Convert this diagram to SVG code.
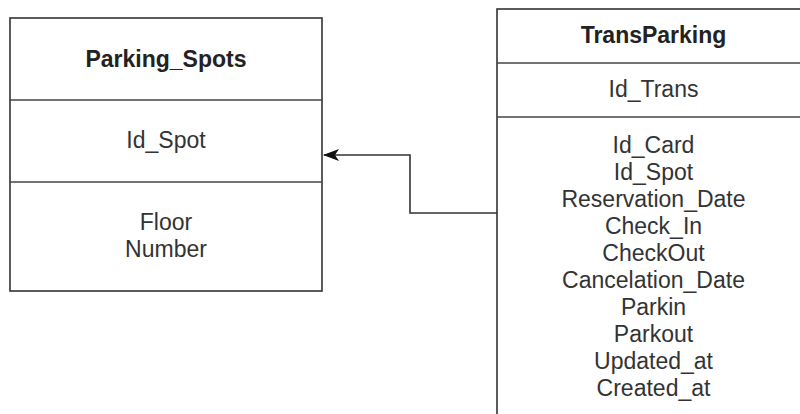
<svg xmlns="http://www.w3.org/2000/svg" width="800" height="414" viewBox="0 0 800 414">
  <style>
    .box { fill: #ffffff; stroke: #333333; stroke-width: 1.6; }
    .div { stroke: #444444; stroke-width: 1.6; fill: none; }
    .title { font-family: "Liberation Sans", Arial, sans-serif; font-size: 23px; font-weight: bold; fill: #222222; text-anchor: middle; }
    .attr { font-family: "Liberation Sans", Arial, sans-serif; font-size: 23px; fill: #333333; text-anchor: middle; }
    .edge { fill: none; stroke: #333333; stroke-width: 1.6; }
  </style>
  <defs>
    <marker id="arrow" viewBox="0 0 16 12" refX="15" refY="6" markerWidth="16" markerHeight="12" markerUnits="userSpaceOnUse" orient="auto">
      <path d="M0 0 L16 6 L0 12 L4 6 Z" fill="#111111"/>
    </marker>
  </defs>
  <rect width="800" height="414" fill="#ffffff"/>
  <g id="parking_spots">
    <rect class="box" x="10" y="18" width="312" height="273"/>
    <line class="div" x1="10" y1="100" x2="322" y2="100"/>
    <line class="div" x1="10" y1="182" x2="322" y2="182"/>
    <text class="title" x="166" y="67">Parking_Spots</text>
    <text class="attr" x="166" y="148">Id_Spot</text>
    <text class="attr" x="166" y="230">Floor</text>
    <text class="attr" x="166" y="256.5">Number</text>
  </g>
  <g id="transparking">
    <rect class="box" x="497" y="9" width="320" height="420"/>
    <line class="div" x1="497" y1="63" x2="817" y2="63"/>
    <line class="div" x1="497" y1="117" x2="817" y2="117"/>
    <text class="title" x="653.5" y="43">TransParking</text>
    <text class="attr" x="653.5" y="97">Id_Trans</text>
    <text class="attr" x="653.5" y="152.5">Id_Card</text>
    <text class="attr" x="653.5" y="179.6">Id_Spot</text>
    <text class="attr" x="653.5" y="206.7">Reservation_Date</text>
    <text class="attr" x="653.5" y="233.8">Check_In</text>
    <text class="attr" x="653.5" y="260.9">CheckOut</text>
    <text class="attr" x="653.5" y="288">Cancelation_Date</text>
    <text class="attr" x="653.5" y="315.1">Parkin</text>
    <text class="attr" x="653.5" y="342.2">Parkout</text>
    <text class="attr" x="653.5" y="369.3">Updated_at</text>
    <text class="attr" x="653.5" y="396.4">Created_at</text>
  </g>
  <g id="connectors">
    <path class="edge" d="M497 213 H410 V155 H324" marker-end="url(#arrow)"/>
  </g>
</svg>
